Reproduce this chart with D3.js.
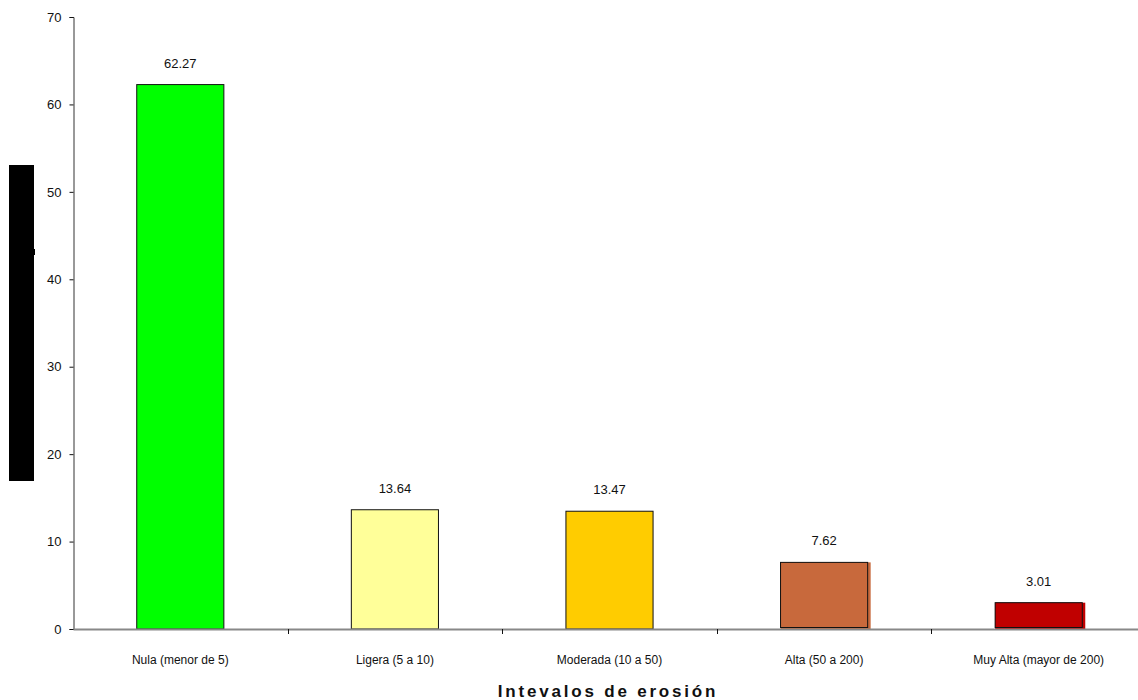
<!DOCTYPE html>
<html>
<head>
<meta charset="utf-8">
<script src="https://cdn.jsdelivr.net/npm/d3@7"></script>
<style>
  html, body { margin: 0; padding: 0; background: #fff; }
  svg { display: block; font-family: "Liberation Sans", Arial, sans-serif; }
</style>
</head>
<body>
<svg id="chart" width="1138" height="700"></svg>
<script>
// Erosion intervals and the share of area in each
const categories = [
  "Nula (menor de 5)",
  "Ligera (5 a 10)",
  "Moderada (10 a 50)",
  "Alta (50 a 200)",
  "Muy Alta (mayor de 200)"
];
const values = [62.27, 13.64, 13.47, 7.62, 3.01];
const colors = ["#00ff00", "#ffff99", "#ffcc00", "#c8693c", "#c00000"];
const shadowed = [false, false, false, true, true];
const yTicks = [0, 10, 20, 30, 40, 50, 60, 70];
const xTitle = "Intevalos de erosión";

const svg = d3.select("#chart");
const plotLeft = 73, plotRight = 1146, plotTop = 17, plotBottom = 629;

const x = d3.scaleBand().domain(categories).range([plotLeft, plotRight]).padding(0);
const y = d3.scaleLinear().domain([0, 70]).range([plotBottom, plotTop]);
const barW = x.bandwidth() * 0.406;

// Bars
const g = svg.append("g");
categories.forEach((c, i) => {
  const cx = x(c) + x.bandwidth() / 2;
  const x0 = cx - barW / 2;
  const y0 = y(values[i]);
  if (shadowed[i]) {
    g.append("rect")
      .attr("x", x0).attr("y", y0)
      .attr("width", barW + 3).attr("height", y(0) - y0)
      .attr("fill", colors[i]);
  }
  g.append("rect")
    .attr("x", x0).attr("y", y0)
    .attr("width", barW).attr("height", y(0) - y0 - (shadowed[i] ? 1.5 : 0))
    .attr("fill", colors[i])
    .attr("stroke", "#111").attr("stroke-width", 1);
  g.append("text")
    .attr("x", cx).attr("y", y0 - 17)
    .attr("text-anchor", "middle")
    .attr("font-size", 13).attr("fill", "#111")
    .text(values[i].toFixed(2));
});

// Y axis
const yAxis = d3.axisLeft(y).tickValues(yTicks).tickSize(4).tickSizeOuter(4).tickPadding(8);
const ya = svg.append("g").attr("transform", `translate(${plotLeft + 0.5},0)`).call(yAxis);
ya.select(".domain").attr("stroke", "#333");
ya.selectAll(".tick line").attr("stroke", "#111");
ya.selectAll(".tick text").attr("font-size", 13).attr("fill", "#111")
  .attr("font-family", "Liberation Sans, Arial, sans-serif");

// X axis
const xAxis = d3.axisBottom(x).tickSize(0).tickPadding(26);
const xa = svg.append("g").attr("transform", `translate(0,${plotBottom})`).call(xAxis);
xa.select(".domain").attr("stroke", "#888").attr("stroke-width", 2);
xa.selectAll(".tick text").attr("font-size", 12).attr("fill", "#111")
  .attr("font-family", "Liberation Sans, Arial, sans-serif");
// Category separators
categories.slice(1).forEach(c => {
  svg.append("line")
    .attr("x1", Math.round(x(c)) + 0.5).attr("x2", Math.round(x(c)) + 0.5)
    .attr("y1", plotBottom).attr("y2", plotBottom + 5)
    .attr("stroke", "#111");
});

// Axis title
svg.append("text")
  .attr("x", 608).attr("y", 697)
  .attr("text-anchor", "middle")
  .attr("font-size", 17).attr("font-weight", "bold")
  .attr("letter-spacing", 2.8).attr("fill", "#111")
  .text(xTitle);

// Vertical title block
svg.append("rect")
  .attr("x", 9).attr("y", 165).attr("width", 25).attr("height", 316)
  .attr("fill", "#000");
svg.append("rect")
  .attr("x", 33).attr("y", 249).attr("width", 2).attr("height", 6)
  .attr("fill", "#000");
</script>
</body>
</html>
